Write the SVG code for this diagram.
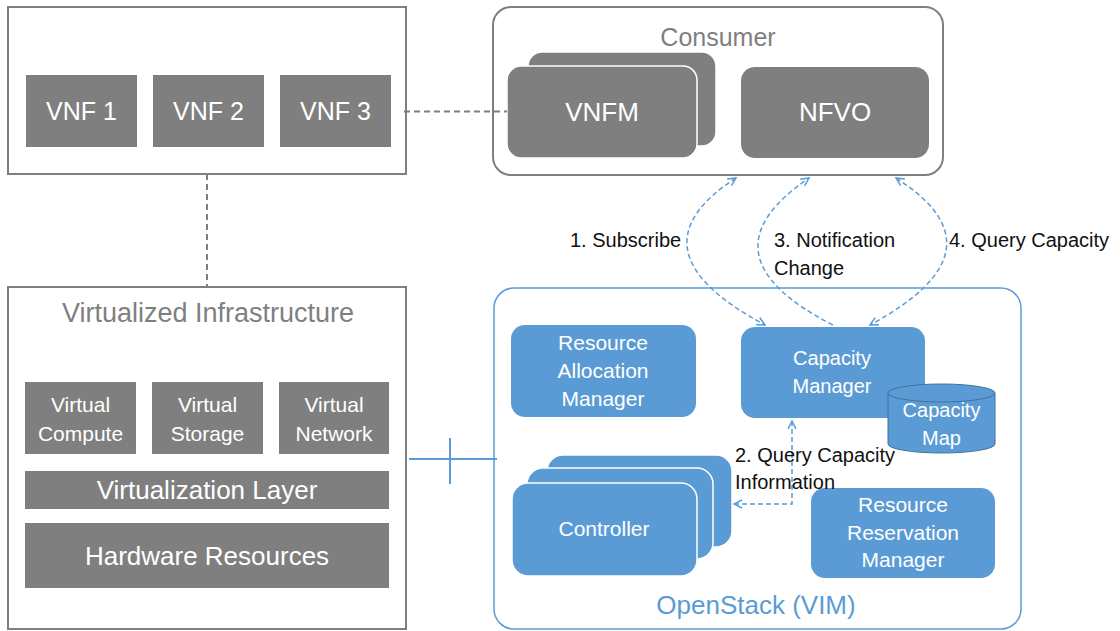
<svg xmlns="http://www.w3.org/2000/svg" width="1120" height="631" viewBox="0 0 1120 631">
<defs>
<marker id="ah" viewBox="0 0 10 10" refX="9" refY="5" markerWidth="10" markerHeight="10" markerUnits="userSpaceOnUse" orient="auto-start-reverse">
<path d="M1,1 L9,5 L1,9" fill="none" stroke="#5b9bd5" stroke-width="1.5"/>
</marker>
</defs>
<style>
text{font-family:"Liberation Sans",Arial,sans-serif;text-anchor:middle}
.frame{fill:#fff;stroke:#7f7f7f;stroke-width:2}
.g{fill:#7f7f7f}
.b{fill:#5b9bd5}
.bs{fill:#5b9bd5;stroke:#fff;stroke-width:1.5}
.wt{fill:#fff}
.gt{fill:#7f7f7f}
.lbl{fill:#111;font-size:20px;text-anchor:start}
.gd{fill:none;stroke:#7f7f7f;stroke-width:2;stroke-dasharray:6 4}
.bd{fill:none;stroke:#5b9bd5;stroke-width:1.5;stroke-dasharray:5 3}
</style>
<rect width="1120" height="631" fill="#fff"/>

<g id="vnf-box">
<rect class="frame" x="8" y="7" width="398" height="167"/>
</g>
<g id="vnf1"><rect class="g" x="26" y="75" width="111" height="72"/><text class="wt" x="81.5" y="120" font-size="25">VNF 1</text></g>
<g id="vnf2"><rect class="g" x="153" y="75" width="111" height="72"/><text class="wt" x="208.5" y="120" font-size="25">VNF 2</text></g>
<g id="vnf3"><rect class="g" x="280" y="75" width="111" height="72"/><text class="wt" x="335.5" y="120" font-size="25">VNF 3</text></g>

<g id="vi-box">
<rect class="frame" x="8" y="287" width="398" height="342"/>
<text class="gt" x="208" y="322" font-size="27">Virtualized Infrastructure</text>
</g>
<g id="virtual-compute"><rect class="g" x="25" y="382" width="111" height="72"/><text class="wt" x="80.5" y="412" font-size="21">Virtual</text><text class="wt" x="80.5" y="441" font-size="21">Compute</text></g>
<g id="virtual-storage"><rect class="g" x="152" y="382" width="111" height="72"/><text class="wt" x="207.5" y="412" font-size="21">Virtual</text><text class="wt" x="207.5" y="441" font-size="21">Storage</text></g>
<g id="virtual-network"><rect class="g" x="279" y="382" width="110" height="72"/><text class="wt" x="334" y="412" font-size="21">Virtual</text><text class="wt" x="334" y="441" font-size="21">Network</text></g>
<g id="virtualization-layer"><rect class="g" x="25" y="471" width="364" height="38"/><text class="wt" x="207" y="499" font-size="26">Virtualization Layer</text></g>
<g id="hardware-resources"><rect class="g" x="25" y="523" width="364" height="65"/><text class="wt" x="207" y="565" font-size="26">Hardware Resources</text></g>

<g id="consumer">
<rect x="493" y="7" width="450" height="168" rx="18" fill="#fff" stroke="#7f7f7f" stroke-width="2"/>
<text class="gt" x="718" y="46" font-size="25">Consumer</text>
</g>
<g id="vnfm">
<rect class="g" x="528" y="52" width="188" height="94" rx="14" stroke="#fff" stroke-width="1.5"/>
<rect class="g" x="507" y="66" width="190" height="92" rx="14" stroke="#fff" stroke-width="1.5"/>
<text class="wt" x="602" y="121" font-size="26">VNFM</text>
</g>
<g id="nfvo">
<rect class="g" x="741" y="67" width="188" height="91" rx="14"/>
<text class="wt" x="835" y="121" font-size="26">NFVO</text>
</g>

<g id="openstack">
<rect x="494" y="288" width="527" height="341" rx="20" fill="#fff" stroke="#5b9bd5" stroke-width="1.5"/>
<text x="756" y="614" font-size="26" fill="#5b9bd5">OpenStack (VIM)</text>
</g>
<g id="resource-allocation-manager">
<rect class="b" x="511" y="325" width="185" height="92" rx="14"/>
<text class="wt" x="603" y="350" font-size="21">Resource</text>
<text class="wt" x="603" y="378" font-size="21">Allocation</text>
<text class="wt" x="603" y="406" font-size="21">Manager</text>
</g>
<g id="capacity-manager">
<rect class="b" x="741" y="327" width="184" height="91" rx="14"/>
<text class="wt" x="832" y="365" font-size="20">Capacity</text>
<text class="wt" x="832" y="393" font-size="20">Manager</text>
</g>
<g id="capacity-map">
<path d="M888,393 L888,444 A53.5,9 0 0 0 995,444 L995,393" fill="#5b9bd5" stroke="#41719c" stroke-width="1"/>
<ellipse cx="941.5" cy="393" rx="53.5" ry="9" fill="#5b9bd5" stroke="#41719c" stroke-width="1"/>
<text class="wt" x="941.5" y="417" font-size="20">Capacity</text>
<text class="wt" x="941.5" y="445" font-size="20">Map</text>
</g>
<g id="controller">
<rect class="bs" x="547" y="455" width="185" height="92" rx="16"/>
<rect class="bs" x="527" y="468" width="186" height="91" rx="16"/>
<rect class="bs" x="512" y="483" width="185" height="93" rx="16"/>
<text class="wt" x="604" y="536" font-size="21">Controller</text>
</g>
<g id="resource-reservation-manager">
<rect class="b" x="811" y="488" width="184" height="90" rx="14"/>
<text class="wt" x="903" y="512" font-size="21">Resource</text>
<text class="wt" x="903" y="540" font-size="21">Reservation</text>
<text class="wt" x="903" y="567" font-size="21">Manager</text>
</g>

<g id="connectors">
<line class="gd" x1="404" y1="111.5" x2="507" y2="111.5"/>
<line class="gd" x1="207" y1="174" x2="207" y2="287"/>
<line x1="409" y1="459" x2="497" y2="459" stroke="#5b9bd5" stroke-width="2"/>
<line x1="450" y1="438" x2="450" y2="484" stroke="#5b9bd5" stroke-width="2"/>
<path class="bd" d="M736,178 Q625,250 765,325" marker-start="url(#ah)" marker-end="url(#ah)"/>
<path class="bd" d="M833,325 Q696,255 809,178" marker-end="url(#ah)"/>
<path class="bd" d="M896,178 Q1009,250 870,325" marker-start="url(#ah)" marker-end="url(#ah)"/>
<path class="bd" d="M792,421 L792,504 L734,504" marker-start="url(#ah)" marker-end="url(#ah)"/>
<text class="lbl" x="570" y="247">1. Subscribe</text>
<text class="lbl" x="774" y="247">3. Notification</text>
<text class="lbl" x="774" y="275">Change</text>
<text class="lbl" x="949" y="247">4. Query Capacity</text>
<text class="lbl" x="735" y="462">2. Query Capacity</text>
<text class="lbl" x="735" y="489">Information</text>
</g>
</svg>
